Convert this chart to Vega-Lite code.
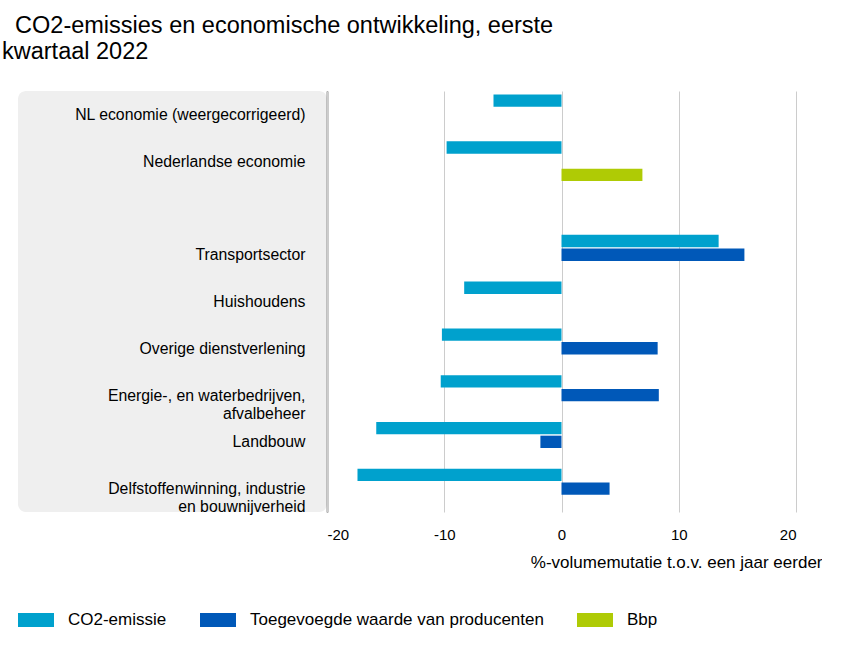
{
  "$schema": "https://vega.github.io/schema/vega-lite/v6.json",
  "padding": {"left": 2, "top": 13, "right": 0, "bottom": 0},
  "title": {
    "text": ["\u200b\u00a0\u00a0CO2-emissies en economische ontwikkeling, eerste", "kwartaal 2022"],
    "anchor": "start",
    "frame": "group",
    "fontSize": 23.5,
    "fontWeight": "normal",
    "font": "Liberation Sans",
    "color": "#000000",
    "lineHeight": 26,
    "dx": -16,
    "offset": 28
  },
  "data": {
    "values": [
      {"cat": "NL economie (weergecorrigeerd)", "series": "CO2-emissie", "value": -5.8},
      {"cat": "Nederlandse economie", "series": "CO2-emissie", "value": -9.8},
      {"cat": "Nederlandse economie", "series": "Bbp", "value": 6.9},
      {"cat": "Transportsector", "series": "CO2-emissie", "value": 13.4},
      {"cat": "Transportsector", "series": "Toegevoegde waarde van producenten", "value": 15.6},
      {"cat": "Huishoudens", "series": "CO2-emissie", "value": -8.3},
      {"cat": "Overige dienstverlening", "series": "CO2-emissie", "value": -10.2},
      {"cat": "Overige dienstverlening", "series": "Toegevoegde waarde van producenten", "value": 8.2},
      {"cat": "Energie-, en waterbedrijven,|afvalbeheer", "series": "CO2-emissie", "value": -10.3},
      {"cat": "Energie-, en waterbedrijven,|afvalbeheer", "series": "Toegevoegde waarde van producenten", "value": 8.3},
      {"cat": "Landbouw", "series": "CO2-emissie", "value": -15.8},
      {"cat": "Landbouw", "series": "Toegevoegde waarde van producenten", "value": -1.8},
      {"cat": "Delfstoffenwinning, industrie|en bouwnijverheid", "series": "CO2-emissie", "value": -17.4},
      {"cat": "Delfstoffenwinning, industrie|en bouwnijverheid", "series": "Toegevoegde waarde van producenten", "value": 4.1}
    ]
  },
  "spacing": 0,
  "bounds": "flush",
  "hconcat": [
    {
      "width": 309,
      "height": 421,
      "view": {"fill": "#efefef", "stroke": null, "cornerRadius": 8},
      "mark": {"type": "point", "opacity": 0},
      "encoding": {
        "y": {
          "field": "cat",
          "type": "nominal",
          "scale": {"domain": ["NL economie (weergecorrigeerd)", "Nederlandse economie", " ", "Transportsector", "Huishoudens", "Overige dienstverlening", "Energie-, en waterbedrijven,|afvalbeheer", "Landbouw", "Delfstoffenwinning, industrie|en bouwnijverheid"]},
          "axis": {
            "orient": "right",
            "title": null,
            "ticks": false,
            "domainColor": "#333333",
            "domainWidth": 1.5,
            "labelPadding": -22,
            "labelAlign": "right",
            "labelFontSize": 15.8,
            "labelColor": "#000000",
            "labelExpr": "split(datum.label, '|')",
            "labelLineHeight": 18,
            "labelLimit": 320
          }
        }
      }
    },
    {
      "width": 469,
      "height": 421,
      "view": {"stroke": null},
      "mark": {"type": "bar"},
      "encoding": {
        "x": {
          "field": "value",
          "type": "quantitative",
          "scale": {"domain": [-20, 20], "nice": false},
          "axis": {
            "values": [-20, -10, 0, 10, 20],
            "labelExpr": "'' + datum.value",
            "title": "%-volumemutatie t.o.v. een jaar eerder",
            "grid": true,
            "gridColor": "#cccccc",
            "domain": false,
            "ticks": false,
            "labelFontSize": 15,
            "labelColor": "#000000",
            "labelPadding": 15,
            "titleFontSize": 17,
            "titleFontWeight": "normal",
            "titleColor": "#000000",
            "titleAlign": "right",
            "titleX": 495,
            "titleY": 55,
            "titleBaseline": "alphabetic"
          }
        },
        "y": {
          "field": "cat",
          "type": "nominal",
          "scale": {"domain": ["NL economie (weergecorrigeerd)", "Nederlandse economie", " ", "Transportsector", "Huishoudens", "Overige dienstverlening", "Energie-, en waterbedrijven,|afvalbeheer", "Landbouw", "Delfstoffenwinning, industrie|en bouwnijverheid"], "paddingInner": 0.15, "paddingOuter": 0.075},
          "axis": null
        },
        "yOffset": {
          "field": "series",
          "type": "nominal",
          "scale": {"domain": ["CO2-emissie", "Toegevoegde waarde van producenten", "Bbp"], "paddingInner": 0.1, "paddingOuter": 0}
        },
        "color": {
          "field": "series",
          "type": "nominal",
          "scale": {"domain": ["CO2-emissie", "Toegevoegde waarde van producenten", "Bbp"], "range": ["#00a1cd", "#0058b8", "#afcb05"]},
          "legend": {"title": null}
        }
      }
    }
  ],
  "resolve": {"scale": {"y": "independent"}},
  "config": {
    "font": "Liberation Sans",
    "view": {"stroke": null},
    "legend": {
      "orient": "bottom",
      "direction": "horizontal",
      "symbolType": "M-1,-0.39H1V0.39H-1Z",
      "symbolSize": 1296,
      "symbolStrokeWidth": 0,
      "labelFontSize": 17,
      "labelColor": "#000000",
      "labelOffset": 14,
      "labelLimit": 0,
      "columnPadding": 33,
      "offset": 32
    }
  }
}
